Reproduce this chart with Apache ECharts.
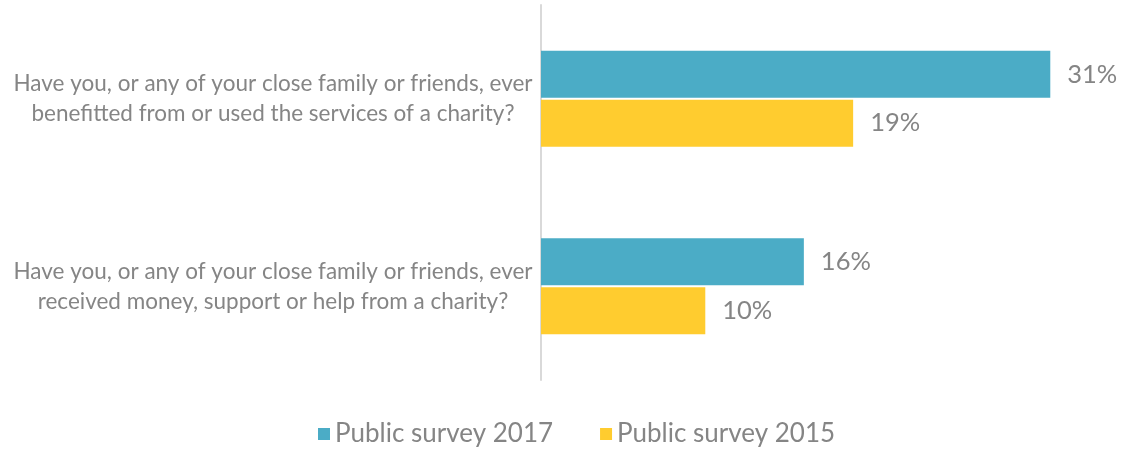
<!DOCTYPE html>
<html>
<head>
<meta charset="utf-8">
<script src="https://cdn.jsdelivr.net/npm/echarts@6/dist/echarts.min.js"></script>
<style>
  html, body { margin: 0; padding: 0; background: #ffffff; }
  #chart { width: 1124px; height: 450px; }
</style>
</head>
<body>
<div id="chart"></div>
<script>
// Survey questions (top to bottom)
const categories = [
  'Have you, or any of your close family or friends, ever\nbenefitted from or used the services of a charity?',
  'Have you, or any of your close family or friends, ever\nreceived money, support or help from a charity?'
];
const seriesNames = ['Public survey 2017', 'Public survey 2015'];
const values2017 = [31, 16];
const values2015 = [19, 10];

const FONT = 'Lato, "Open Sans", sans-serif';
const TEXT = '#858585';

const chart = echarts.init(document.getElementById('chart'), null, { renderer: 'canvas' });

const labelStyle = {
  show: true,
  position: 'right',
  distance: 17,
  color: TEXT,
  fontFamily: FONT,
  fontSize: 25.5,
  formatter: p => p.value + '%'
};

chart.setOption({
  animation: false,
  textStyle: { fontFamily: FONT },
  grid: { left: 541, right: 8, top: 5, bottom: 70, containLabel: false },
  legend: {
    bottom: -2,
    left: 313,
    itemWidth: 12,
    itemHeight: 12,
    itemGap: 47,
    icon: 'rect',
    textStyle: { color: TEXT, fontSize: 26, fontFamily: FONT },
    data: seriesNames
  },
  xAxis: {
    type: 'value',
    min: 0,
    max: 35,
    show: false
  },
  yAxis: {
    type: 'category',
    inverse: true,
    data: categories,
    axisLine: { show: true, lineStyle: { color: '#d9d9d9', width: 2 } },
    axisTick: { show: false },
    axisLabel: {
      color: TEXT,
      fontFamily: FONT,
      fontSize: 22.5,
      lineHeight: 30,
      align: 'center',
      margin: 268
    }
  },
  series: [
    {
      name: seriesNames[0],
      type: 'bar',
      data: values2017,
      barWidth: 47,
      barGap: '4%',
      itemStyle: { color: '#4bacc6' },
      label: labelStyle
    },
    {
      name: seriesNames[1],
      type: 'bar',
      data: values2015,
      barWidth: 47,
      barGap: '4%',
      itemStyle: { color: '#ffcc2f' },
      label: labelStyle
    }
  ]
});
</script>
</body>
</html>
